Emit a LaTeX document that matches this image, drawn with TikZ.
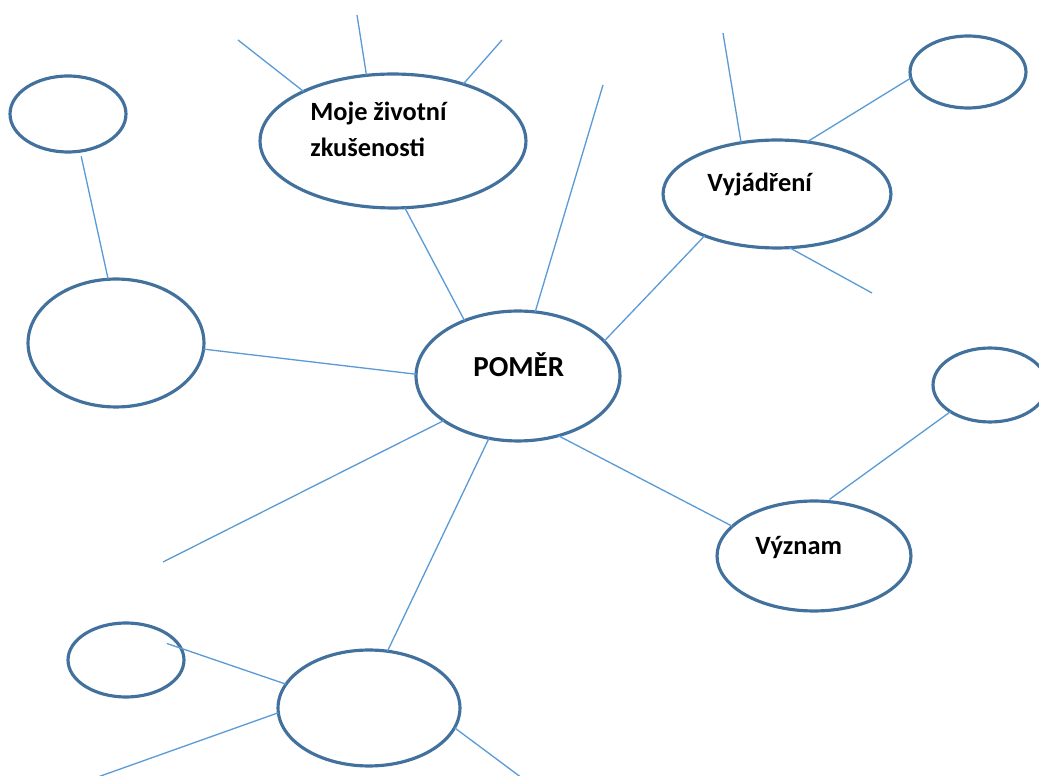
\documentclass[tikz,border=0pt]{standalone}
\usepackage{fontspec}
\setmainfont{Carlito}
\usetikzlibrary{shapes.geometric}
\definecolor{ellblue}{HTML}{41719C}
\definecolor{lineblue}{HTML}{5B9BD5}
\begin{document}
\begin{tikzpicture}[x=0.02cm,y=-0.02cm,
 ell/.style 2 args={draw=ellblue,line width=1.8pt,ellipse,inner sep=0pt,outer sep=0pt,minimum width=#1*0.04cm,minimum height=#2*0.04cm},
 conn/.style={draw=lineblue,line width=0.75pt},
 lbl/.style={font=\fontsize{15}{21}\selectfont\bfseries,inner sep=0pt,anchor=base west}]
\useasboundingbox (0,0) rectangle (1039,776);
\clip (0,0) rectangle (1039,776);
% ellipses
\node[ell={58}{38}] (tl) at (68,114) {};
\node[ell={133}{67}] (moje) at (393,141) {};
\node[ell={114}{54}] (vyj) at (777,194) {};
\node[ell={58}{36}] (tr) at (968,72) {};
\node[ell={88}{64}] (left) at (116,343) {};
\node[ell={102}{65}] (pomer) at (518,376) {};
\node[ell={57}{37}] (r) at (990,385) {};
\node[ell={97}{55}] (vyz) at (814,556) {};
\node[ell={58}{37}] (bl) at (126,660) {};
\node[ell={91}{58}] (bot) at (369,708) {};
% labels
\node[lbl] (t1) at (310,121) {Moje životní};
\node[lbl] (t2) at (310,157) {zkušenosti};
\node[lbl] (t3) at (707,192) {Vyjádření};
\node[lbl,font=\fontsize{16.5}{20}\selectfont\bfseries] (t4) at (473,377) {POMĚR};
\node[lbl] (t5) at (755,555) {Význam};
% free ends
\coordinate (f1) at (603,85);
\coordinate (f2) at (723,33);
\coordinate (f3) at (872,293);
\coordinate (f4) at (163,562);
\coordinate (f5) at (95,778);
\coordinate (f6) at (522,778);
\coordinate (f7) at (238,40);
\coordinate (f8) at (357,15);
\coordinate (f9) at (502,40);
% connectors
\draw[conn,shorten <=3pt] (tl.-72) -- (left.97);
\draw[conn] (left.-4) -- (pomer.179);
\draw[conn] (moje.-80) -- (pomer.134);
\draw[conn] (pomer.75) -- (f1);
\draw[conn] (vyj.210.5) -- (pomer.22);
\draw[conn] (f2) -- (vyj.125);
\draw[conn] (vyj.60) -- (tr.186);
\draw[conn] (vyj.-77) -- (f3);
\draw[conn] (pomer.211.6) -- (f4);
\draw[conn] (pomer.-56.7) -- (vyz.160.7);
\draw[conn] (pomer.-115) -- (bot.72);
\draw[conn,shorten >=2pt] (r.214) -- (vyz.77.6);
\draw[conn,shorten <=-0.3cm] (bl.12) -- (bot.164);
\draw[conn] (bot.183.6) -- (f5);
\draw[conn] (bot.-13) -- (f6);
\draw[conn] (f7) -- (moje.151);
\draw[conn] (f8) -- (moje.112);
\draw[conn] (f9) -- (moje.39.7);
\end{tikzpicture}
\end{document}
